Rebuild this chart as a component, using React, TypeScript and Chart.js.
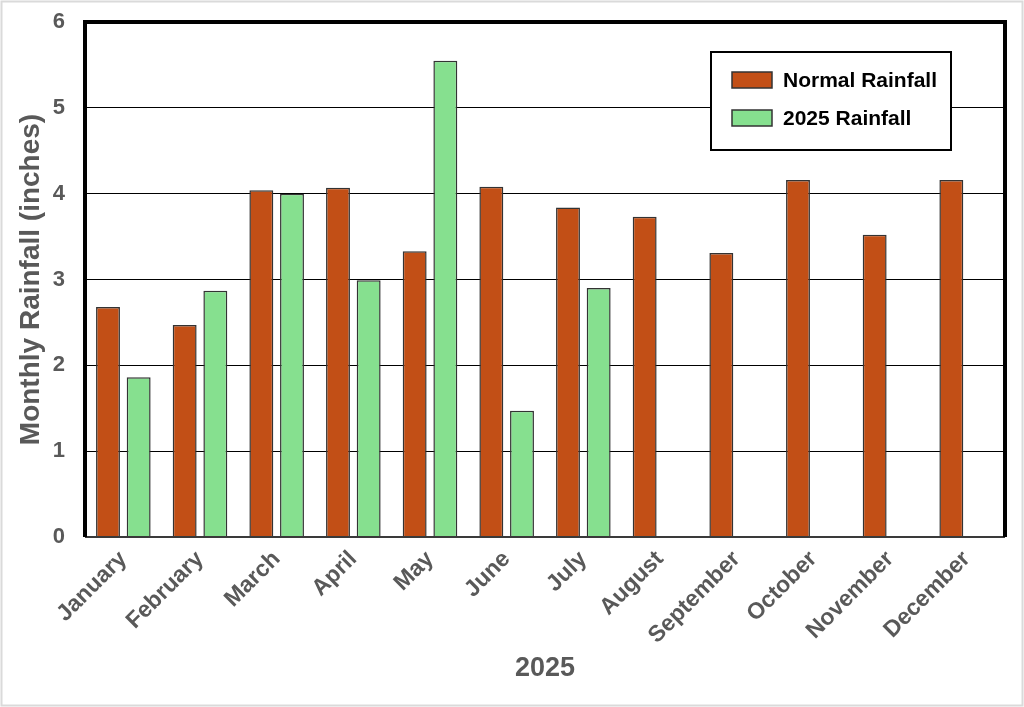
import React, { useEffect, useRef } from "react";
import { Chart, registerables } from "chart.js";

Chart.register(...registerables);

const months = [
  "January", "February", "March", "April", "May", "June",
  "July", "August", "September", "October", "November", "December",
];
const normalRainfall = [2.68, 2.47, 4.04, 4.07, 3.33, 4.08, 3.84, 3.73, 3.31, 4.16, 3.52, 4.16];
const rainfall2025 = [1.86, 2.87, 4.0, 2.99, 5.55, 1.47, 2.9, null, null, null, null, null];
const seriesLabels = ["Normal Rainfall", "2025 Rainfall"];
const seriesColors = ["#C24F16", "#86E08F"];
const yMin = 0;
const yMax = 6;
const xTitle = "2025";
const yTitle = "Monthly Rainfall (inches)";

const FONT = "'Liberation Sans', Arial, sans-serif";
const GRAY = "#595959";

const framePlugin = {
  id: "frame",
  beforeDraw(chart: any) {
    const ctx = chart.ctx;
    ctx.save();
    ctx.fillStyle = "#ffffff";
    ctx.fillRect(0, 0, chart.width, chart.height);
    ctx.strokeStyle = "#dadada";
    ctx.lineWidth = 2;
    ctx.strokeRect(1.5, 1.5, chart.width - 3, chart.height - 3);
    ctx.restore();
  },
  afterDraw(chart: any) {
    const ctx = chart.ctx;
    const ca = chart.chartArea;
    ctx.save();
    ctx.strokeStyle = "#3a3a3a";
    ctx.lineWidth = 2;
    ctx.beginPath();
    ctx.moveTo(ca.left, ca.bottom);
    ctx.lineTo(ca.right, ca.bottom);
    ctx.stroke();
    ctx.strokeStyle = "#000000";
    ctx.lineWidth = 4;
    ctx.beginPath();
    ctx.moveTo(ca.left, ca.bottom);
    ctx.lineTo(ca.left, ca.top);
    ctx.lineTo(ca.right, ca.top);
    ctx.lineTo(ca.right, ca.bottom);
    ctx.stroke();

    const lx = ca.right - 294;
    const ly = ca.top + 30;
    const lw = 240;
    const lh = 98;
    ctx.fillStyle = "#ffffff";
    ctx.fillRect(lx, ly, lw, lh);
    ctx.strokeStyle = "#000000";
    ctx.lineWidth = 2;
    ctx.strokeRect(lx, ly, lw, lh);
    chart.data.datasets.forEach((ds: any, i: number) => {
      const sy = ly + 20 + i * 38;
      ctx.fillStyle = ds.backgroundColor;
      ctx.fillRect(lx + 21, sy, 40, 16);
      ctx.strokeStyle = "#333333";
      ctx.lineWidth = 1.5;
      ctx.strokeRect(lx + 21, sy, 40, 16);
      ctx.fillStyle = "#000000";
      ctx.font = `bold 21px ${FONT}`;
      ctx.textAlign = "left";
      ctx.textBaseline = "middle";
      ctx.fillText(ds.label, lx + 72, sy + 9);
    });
    ctx.restore();
  },
};

export default function App() {
  const canvasRef = useRef<HTMLCanvasElement | null>(null);

  useEffect(() => {
    document.body.style.margin = "0";
    const canvas = canvasRef.current;
    if (!canvas) return;
    const chart = new Chart(canvas, {
      type: "bar",
      data: {
        labels: months,
        datasets: [
          {
            label: seriesLabels[0],
            data: normalRainfall,
            backgroundColor: seriesColors[0],
            borderColor: "#333333",
            borderWidth: 1.5,
            categoryPercentage: 0.8,
            barPercentage: 0.78,
          },
          {
            label: seriesLabels[1],
            data: rainfall2025 as any,
            backgroundColor: seriesColors[1],
            borderColor: "#333333",
            borderWidth: 1.5,
            categoryPercentage: 0.8,
            barPercentage: 0.78,
          },
        ],
      },
      options: {
        responsive: false,
        animation: false,
        devicePixelRatio: 1,
        layout: { padding: { left: 0, top: 22, right: 19, bottom: 0 } },
        plugins: {
          legend: { display: false },
          tooltip: { enabled: false },
        },
        scales: {
          x: {
            grid: { display: false, drawTicks: false },
            border: { display: false },
            ticks: {
              color: GRAY,
              font: { family: FONT, size: 23, weight: "bold", lineHeight: 0.3 },
              maxRotation: 45,
              minRotation: 45,
              padding: 16,
              autoSkip: false,
            },
            title: {
              display: true,
              text: xTitle,
              color: GRAY,
              font: { family: FONT, size: 27, weight: "bold" },
              padding: { top: 0, bottom: 22 },
            },
            afterFit(scale: any) {
              scale.height = 170;
            },
          },
          y: {
            min: yMin,
            max: yMax,
            grid: { color: "#000000", lineWidth: 1, drawTicks: false },
            border: { display: false },
            ticks: {
              stepSize: 1,
              color: GRAY,
              font: { family: FONT, size: 22, weight: "bold" },
              padding: 20,
            },
            title: {
              display: true,
              text: yTitle,
              color: GRAY,
              font: { family: FONT, size: 28, weight: "bold" },
              padding: { top: 14, bottom: 0 },
            },
            afterFit(scale: any) {
              scale.width = 85;
              scale.paddingTop = 0;
              scale.paddingBottom = 0;
            },
          },
        },
      },
      plugins: [framePlugin],
    });
    return () => chart.destroy();
  }, []);

  return (
    <div style={{ width: 1024, height: 707 }}>
      <canvas ref={canvasRef} width={1024} height={707} style={{ display: "block" }} />
    </div>
  );
}
